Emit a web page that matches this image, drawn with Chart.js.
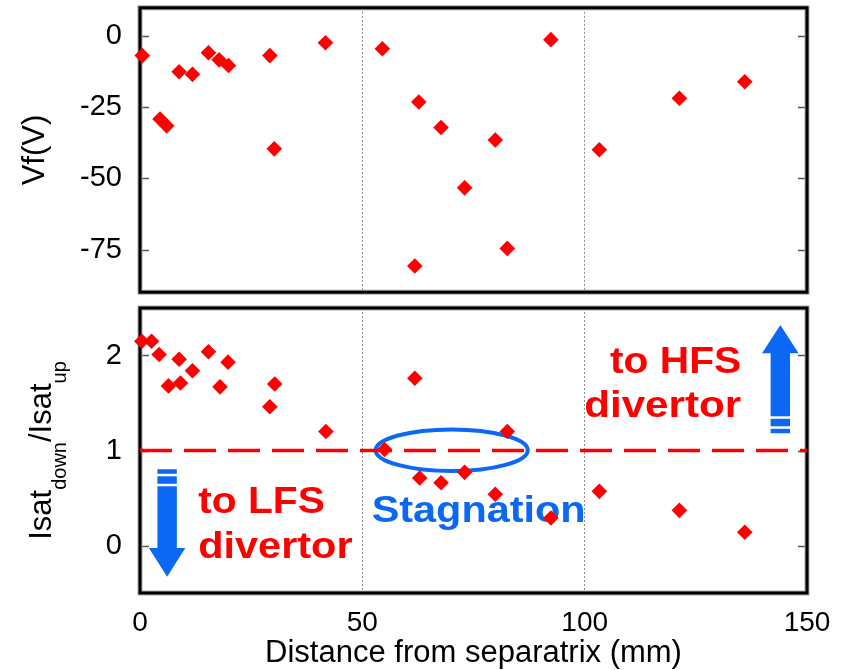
<!DOCTYPE html>
<html>
<head>
<meta charset="utf-8">
<script src="https://cdn.jsdelivr.net/npm/chart.js@4.4.1/dist/chart.umd.min.js"></script>
<style>
  html, body { margin: 0; padding: 0; background: #fff; }
  #wrap { position: relative; width: 845px; height: 670px; overflow: hidden; background: #fff; }
  #vfChart { position: absolute; left: 0; top: 0; }
  #ratioChart { position: absolute; left: 0; top: 300px; }
</style>
</head>
<body>
<div id="wrap">
  <canvas id="vfChart" width="845" height="300"></canvas>
  <canvas id="ratioChart" width="845" height="370"></canvas>
</div>
<script>
// Floating potential Vf (V) against distance from separatrix (mm)
const vfDist = [0.5, 4.5, 6.0, 8.8, 11.8, 15.4, 17.8, 19.9, 29.2, 30.2, 41.7, 54.5,
                61.8, 62.7, 67.7, 73.0, 79.9, 82.6, 92.4, 103.3, 121.3, 136.0];
const vfVolt = [-6.8, -29.1, -31.5, -12.5, -13.4, -5.8, -8.3, -10.3, -6.8, -39.6, -2.3, -4.4,
                -80.8, -23.1, -32.1, -53.3, -36.5, -74.6, -1.2, -39.9, -21.8, -16.0];

// Ion saturation current ratio Isat_down / Isat_up
const ratioDist = [0.4, 2.6, 4.3, 6.4, 8.8, 9.1, 11.8, 15.4, 18.0, 19.8, 29.2, 30.3,
                   41.8, 55.0, 61.8, 62.9, 67.7, 73.0, 79.9, 82.6, 92.4, 103.3, 121.3, 136.0];
const ratioVal  = [2.15, 2.15, 2.01, 1.68, 1.96, 1.71, 1.84, 2.04, 1.67, 1.93, 1.46, 1.70,
                   1.20, 1.01, 1.76, 0.71, 0.66, 0.77, 0.54, 1.20, 0.29, 0.57, 0.37, 0.14];

// Axis ranges and tick labels
const distRange = [0, 150];
const distTicks = [0, 50, 100, 150];
const distGrid = [50, 100];
const vfRange = [-90, 10];
const vfTicks = [-75, -50, -25, 0];
const ratioRange = [-0.5, 2.5];
const ratioTicks = [0, 1, 2];
const balanceLevel = 1;

const FONT = "'Liberation Sans', Arial, sans-serif";
const RED = '#ff0000';
const BLUE = '#0a68f5';

function fixTicks(values) {
  return scale => { scale.ticks = values.map(v => ({ value: v })); };
}
function yFit(scale) {
  scale.width = 140;
  scale.paddingTop = 0;
  scale.paddingBottom = 0;
}
function gridColor(ctx) {
  return ctx.tick && distGrid.includes(ctx.tick.value) ? '#8c8c8c' : 'rgba(0,0,0,0)';
}

// Heavy frame around the plot area plus short inward ticks on both sides
const framePlugin = {
  id: 'frame',
  beforeDatasetsDraw(chart) {
    const { ctx, chartArea: a } = chart;
    const ys = chart.scales.y;
    ctx.save();
    ctx.strokeStyle = '#555';
    ctx.lineWidth = 1.5;
    ys.ticks.forEach(t => {
      const py = Math.round(ys.getPixelForValue(t.value)) + 0.5;
      ctx.beginPath();
      ctx.moveTo(a.left, py); ctx.lineTo(a.left + 9, py);
      ctx.moveTo(a.right, py); ctx.lineTo(a.right - 9, py);
      ctx.stroke();
    });
    const w = a.right - a.left, h = a.bottom - a.top;
    ctx.strokeStyle = '#a8a8a8';
    ctx.lineWidth = 5;
    ctx.strokeRect(a.left, a.top, w, h);
    ctx.strokeStyle = '#000';
    ctx.lineWidth = 3;
    ctx.strokeRect(a.left, a.top, w, h);
    ctx.restore();
  }
};

// Rotated y-axis title made of pieces, so that subscripts can be set lower
function makeYTitle(baseX, parts) {
  return {
    id: 'yTitle',
    afterDraw(chart) {
      const { ctx, chartArea: a } = chart;
      const cy = (a.top + a.bottom) / 2;
      ctx.save();
      ctx.translate(baseX, cy);
      ctx.rotate(-Math.PI / 2);
      ctx.fillStyle = '#000';
      ctx.textBaseline = 'alphabetic';
      ctx.textAlign = 'left';
      const widths = parts.map(p => {
        ctx.font = p.size + 'px ' + FONT;
        return ctx.measureText(p.text).width;
      });
      let x = -widths.reduce((s, w) => s + w, 0) / 2;
      parts.forEach((p, i) => {
        ctx.font = p.size + 'px ' + FONT;
        ctx.fillText(p.text, x, p.shift || 0);
        x += widths[i];
      });
      ctx.restore();
    }
  };
}

// x-axis title under the lower panel
function makeXTitle(text, size, offset) {
  return {
    id: 'xTitle',
    afterDraw(chart) {
      const { ctx, chartArea: a } = chart;
      ctx.save();
      ctx.font = size + 'px ' + FONT;
      ctx.fillStyle = '#000';
      ctx.textAlign = 'center';
      ctx.textBaseline = 'alphabetic';
      ctx.fillText(text, (a.left + a.right) / 2, a.bottom + offset);
      ctx.restore();
    }
  };
}

function stretchedText(ctx, text, x, y, align, sx) {
  ctx.save();
  ctx.translate(x, y);
  ctx.scale(sx, 1);
  ctx.textAlign = align;
  ctx.fillText(text, 0, 0);
  ctx.restore();
}

function blockArrow(ctx, cx, yTail, yBase, yTip, shaftHalf, headHalf, dir) {
  ctx.beginPath();
  ctx.moveTo(cx - shaftHalf, yTail);
  ctx.lineTo(cx - shaftHalf, yBase);
  ctx.lineTo(cx - headHalf, yBase);
  ctx.lineTo(cx, yTip);
  ctx.lineTo(cx + headHalf, yBase);
  ctx.lineTo(cx + shaftHalf, yBase);
  ctx.lineTo(cx + shaftHalf, yTail);
  ctx.closePath();
  ctx.fill();
  // two thin white bands near the tail
  ctx.save();
  ctx.fillStyle = '#ffffff';
  [4.5, 14.5].forEach(off => {
    const yy = yTail + dir * off;
    ctx.fillRect(cx - shaftHalf - 1, dir > 0 ? yy : yy - 2.5, shaftHalf * 2 + 2, 2.5);
  });
  ctx.restore();
}

// Notes on the lower panel: flow-direction arrows, labels and stagnation ring
const notesPlugin = {
  id: 'notes',
  beforeDatasetsDraw(chart) {
    const { ctx } = chart;
    const xs = chart.scales.x, ys = chart.scales.y;
    const X = v => xs.getPixelForValue(v), Y = v => ys.getPixelForValue(v);
    ctx.save();

    // arrows
    ctx.fillStyle = BLUE;
    blockArrow(ctx, X(6.1), Y(0.802), Y(-0.026), Y(-0.328), 9.7, 18.2, 1);
    blockArrow(ctx, X(144.0), Y(1.181), Y(2.023), Y(2.321), 9.7, 18.3, -1);

    // stagnation ring
    ctx.strokeStyle = BLUE;
    ctx.lineWidth = 4;
    ctx.beginPath();
    ctx.ellipse(X(70.1), Y(1.003), X(70.1 + 17.1) - X(70.1), Y(1.003) - Y(1.003 + 0.219), 0, 0, Math.PI * 2);
    ctx.stroke();

    ctx.textBaseline = 'alphabetic';
    ctx.font = 'bold 37px ' + FONT;
    ctx.fillStyle = RED;
    stretchedText(ctx, 'to LFS', X(13.1), Y(0.339), 'left', 1.1);
    stretchedText(ctx, 'divertor', X(13.1), Y(-0.135), 'left', 1.12);
    stretchedText(ctx, 'to HFS', X(135.2), Y(1.813), 'right', 1.1);
    stretchedText(ctx, 'divertor', X(135.2), Y(1.356), 'right', 1.14);

    ctx.font = 'bold 36px ' + FONT;
    ctx.fillStyle = BLUE;
    stretchedText(ctx, 'Stagnation', X(52.1), Y(0.251), 'left', 1.15);
    ctx.restore();
  }
};

const common = {
  responsive: false,
  animation: false,
  devicePixelRatio: 1,
  events: []
};

const xScale = (showLabels) => ({
  type: 'linear',
  min: distRange[0],
  max: distRange[1],
  afterBuildTicks: fixTicks(distTicks),
  afterFit: s => {
    s.height = showLabels ? 77 : 0;
    s.paddingLeft = 0; s.paddingRight = 0;
  },
  ticks: {
    display: showLabels,
    color: '#000',
    padding: 13,
    font: { family: FONT, size: 28 }
  },
  grid: { drawTicks: false, color: gridColor, lineWidth: 1 },
  border: { display: false, dash: [2, 2] }
});

const yScale = (range, values) => ({
  type: 'linear',
  min: range[0],
  max: range[1],
  afterBuildTicks: fixTicks(values),
  afterFit: yFit,
  ticks: { color: '#000', padding: 18, font: { family: FONT, size: 29 } },
  grid: { display: false, drawTicks: false },
  border: { display: false }
});

const markerStyle = {
  pointStyle: 'rectRot',
  pointRadius: 7.8,
  pointHoverRadius: 7.8,
  backgroundColor: RED,
  borderColor: RED,
  borderWidth: 0,
  showLine: false,
  clip: false
};

new Chart(document.getElementById('vfChart'), {
  type: 'scatter',
  data: {
    datasets: [Object.assign({
      data: vfDist.map((d, i) => ({ x: d, y: vfVolt[i] }))
    }, markerStyle)]
  },
  options: Object.assign({}, common, {
    layout: { padding: { top: 7, bottom: 7, left: 0, right: 38 } },
    plugins: { legend: { display: false }, tooltip: { enabled: false } },
    scales: { x: xScale(false), y: yScale(vfRange, vfTicks) }
  }),
  plugins: [framePlugin, makeYTitle(44, [{ text: 'Vf(V)', size: 31 }])]
});

new Chart(document.getElementById('ratioChart'), {
  type: 'scatter',
  data: {
    datasets: [
      Object.assign({
        data: ratioDist.map((d, i) => ({ x: d, y: ratioVal[i] })),
        order: 0
      }, markerStyle),
      {
        data: distRange.map(d => ({ x: d, y: balanceLevel })),
        showLine: true,
        borderColor: RED,
        borderWidth: 3.5,
        borderDash: [32, 12],
        pointRadius: 0,
        pointHoverRadius: 0,
        order: 1
      }
    ]
  },
  options: Object.assign({}, common, {
    layout: { padding: { top: 8, bottom: 0, left: 0, right: 38 } },
    plugins: { legend: { display: false }, tooltip: { enabled: false } },
    scales: { x: xScale(true), y: yScale(ratioRange, ratioTicks) }
  }),
  plugins: [
    framePlugin,
    notesPlugin,
    makeYTitle(51, [
      { text: 'Isat', size: 31 },
      { text: 'down', size: 20, shift: 15 },
      { text: '/Isat', size: 31 },
      { text: 'up', size: 20, shift: 15 }
    ]),
    makeXTitle('Distance from separatrix (mm)', 31, 69)
  ]
});
</script>
</body>
</html>
